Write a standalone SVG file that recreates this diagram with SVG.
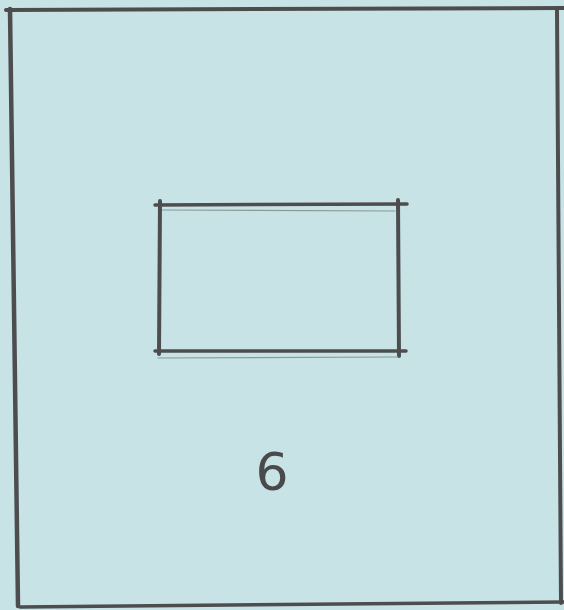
<svg xmlns="http://www.w3.org/2000/svg" width="564" height="610" viewBox="0 0 564 610">
<style>
.pen{fill:none;stroke:#4d4d4f;stroke-linecap:round;stroke-linejoin:round}
.faint{fill:none;stroke:#8a9a98;stroke-width:1.2;stroke-linecap:round}
.label{font-family:"DejaVu Sans",sans-serif;font-size:52px;fill:#4a4a4c}
</style>
<rect width="564" height="610" fill="#c7e3e5"/>
<g id="outer-frame">
<path class="pen" stroke-width="4" d="M6 10 L564 8"/>
<path class="pen" stroke-width="4.5" d="M10 9 L18 606"/>
<path class="pen" stroke-width="4" d="M557 10 L561 603"/>
<path class="pen" stroke-width="3.5" d="M20 607 L564 602"/>
</g>
<g id="inner-rect">
<path class="pen" stroke-width="3.5" d="M155 205 L407 204"/>
<path class="faint" d="M162 210 L395 211"/>
<path class="pen" stroke-width="4" d="M160 201 L159 354"/>
<path class="pen" stroke-width="4" d="M398 200 L399 356"/>
<path class="pen" stroke-width="3.5" d="M155 351 L406 351"/>
<path class="faint" d="M158 358 L398 357"/>
</g>
<g id="label">
<text class="label" x="272" y="490" text-anchor="middle">6</text>
</g>
</svg>
